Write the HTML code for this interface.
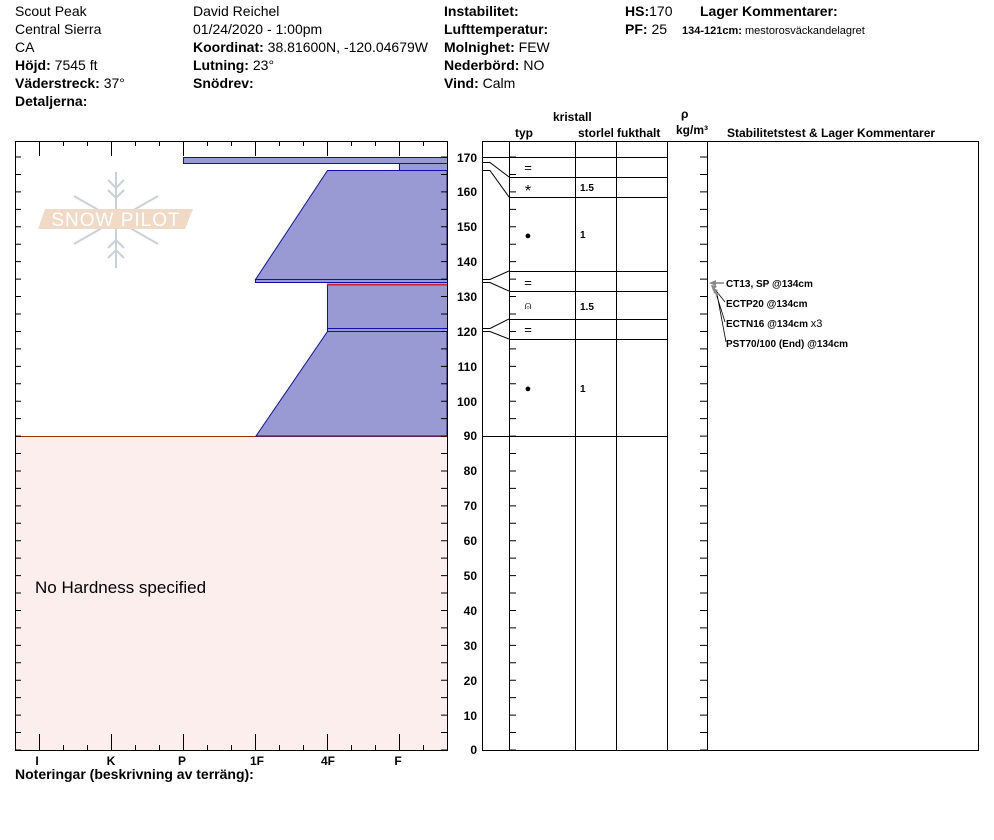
<!DOCTYPE html>
<html><head><meta charset="utf-8"><style>
body{margin:0;background:#fff;width:994px;height:840px;overflow:hidden;font-family:"Liberation Sans",Arial,sans-serif}
svg{position:absolute;left:0;top:0}
text{font-family:"Liberation Sans",Arial,sans-serif}
.h{font-size:14px}
.b{font-weight:bold}
.s{font-size:12px;font-weight:bold}
.t{font-size:10px;font-weight:bold}
</style></head><body>
<svg width="994" height="840" viewBox="0 0 994 840">
<g class="h" fill="#000">
<text x="15" y="16">Scout Peak</text>
<text x="15" y="34">Central Sierra</text>
<text x="15" y="52">CA</text>
<text x="15" y="70"><tspan class="b">Höjd:</tspan> 7545 ft</text>
<text x="15" y="88"><tspan class="b">Väderstreck:</tspan> 37°</text>
<text x="15" y="106" class="b">Detaljerna:</text>
<text x="193" y="16">David Reichel</text>
<text x="193" y="34">01/24/2020 - 1:00pm</text>
<text x="193" y="52"><tspan class="b">Koordinat:</tspan> 38.81600N, -120.04679W</text>
<text x="193" y="70"><tspan class="b">Lutning:</tspan> 23°</text>
<text x="193" y="88" class="b">Snödrev:</text>
<text x="444" y="16" class="b">Instabilitet:</text>
<text x="444" y="34" class="b">Lufttemperatur:</text>
<text x="444" y="52"><tspan class="b">Molnighet:</tspan> FEW</text>
<text x="444" y="70"><tspan class="b">Nederbörd:</tspan> NO</text>
<text x="444" y="88"><tspan class="b">Vind:</tspan>  Calm</text>
<text x="625" y="16"><tspan class="b">HS:</tspan>170</text>
<text x="625" y="34"><tspan class="b">PF:</tspan> 25</text>
<text x="700" y="16" class="b">Lager Kommentarer:</text>
<text x="682" y="34" font-size="11"><tspan font-weight="bold">134-121cm:</tspan> mestorosväckandelagret</text>
</g>
<rect x="15" y="436" width="432" height="314" fill="#fdeeee"/>
<line x1="15.5" y1="436" x2="15.5" y2="750" stroke="#993300"/>
<line x1="15" y1="436.5" x2="447" y2="436.5" stroke="#993300"/>
<text x="35" y="593" font-size="17">No Hardness specified</text>
<g opacity="0.9">
<g stroke="#c5ccd3" stroke-width="2" fill="none">
<line x1="116" y1="172" x2="116" y2="268"/>
<line x1="74" y1="196" x2="158" y2="244"/>
<line x1="74" y1="244" x2="158" y2="196"/>
<path d="M108 180 l8 8 l8 -8 M108 190 l8 8 l8 -8 M108 258 l8 -8 l8 8 M108 248 l8 -8 l8 8"/>
</g>
<polygon points="45,209 193,209 185,229 38,229" fill="#efd6c0"/>
<text x="116" y="226" font-size="19" fill="#fff" text-anchor="middle" letter-spacing="1">SNOW PILOT</text>
</g>
<g fill="#9999d4" stroke="#1010b0" stroke-width="1">
<rect x="183.5" y="157.5" width="264" height="6"/>
<rect x="399.5" y="163.5" width="48" height="7"/>
<polygon points="327.5,170.5 447,170.5 447,279.5 255.5,279.5"/>
<rect x="255.5" y="279.5" width="192" height="3"/>
<rect x="327.5" y="284.5" width="120" height="44"/>
<rect x="327.5" y="328.5" width="120" height="3"/>
<polygon points="327.5,331.5 447,331.5 447,436 256,436"/>
</g>
<line x1="327" y1="284.5" x2="447" y2="284.5" stroke="#cc2222" stroke-width="2"/>
<rect x="15.5" y="141.5" width="432" height="609" fill="none" stroke="#000"/>
<g stroke="#000" fill="none">
<path d="M15 750 h6 m-6 -17.44 h6 m-6 -17.44 h6 m-6 -17.44 h6 m-6 -17.44 h6 m-6 -17.44 h6 m-6 -17.44 h6 m-6 -17.44 h6 m-6 -17.44 h6 m-6 -17.44 h6 m-6 -17.44 h6 m-6 -17.44 h6 m-6 -17.44 h6 m-6 -17.44 h6 m-6 -17.44 h6 m-6 -17.44 h6 m-6 -17.44 h6 m-6 -17.44 h6 m-6 -17.44 h6 m-6 -17.44 h6 m-6 -17.44 h6 m-6 -17.44 h6 m-6 -17.44 h6 m-6 -17.44 h6 m-6 -17.44 h6 m-6 -17.44 h6 m-6 -17.44 h6 m-6 -17.44 h6 m-6 -17.44 h6 m-6 -17.44 h6 m-6 -17.44 h6 m-6 -17.44 h6 m-6 -17.44 h6 m-6 -17.44 h6 m-6 -17.44 h6"/>
<path d="M441 750 h6 m-6 -17.44 h6 m-6 -17.44 h6 m-6 -17.44 h6 m-6 -17.44 h6 m-6 -17.44 h6 m-6 -17.44 h6 m-6 -17.44 h6 m-6 -17.44 h6 m-6 -17.44 h6 m-6 -17.44 h6 m-6 -17.44 h6 m-6 -17.44 h6 m-6 -17.44 h6 m-6 -17.44 h6 m-6 -17.44 h6 m-6 -17.44 h6 m-6 -17.44 h6 m-6 -17.44 h6 m-6 -17.44 h6 m-6 -17.44 h6 m-6 -17.44 h6 m-6 -17.44 h6 m-6 -17.44 h6 m-6 -17.44 h6 m-6 -17.44 h6 m-6 -17.44 h6 m-6 -17.44 h6 m-6 -17.44 h6 m-6 -17.44 h6 m-6 -17.44 h6 m-6 -17.44 h6 m-6 -17.44 h6 m-6 -17.44 h6 m-6 -17.44 h6"/>
<path d="M509 750 h7 m-7 -17.44 h7 m-7 -17.44 h7 m-7 -17.44 h7 m-7 -17.44 h7 m-7 -17.44 h7 m-7 -17.44 h7 m-7 -17.44 h7 m-7 -17.44 h7 m-7 -17.44 h7 m-7 -17.44 h7 m-7 -17.44 h7 m-7 -17.44 h7 m-7 -17.44 h7 m-7 -17.44 h7 m-7 -17.44 h7 m-7 -17.44 h7 m-7 -17.44 h7 m-7 -17.44 h7 m-7 -17.44 h7 m-7 -17.44 h7 m-7 -17.44 h7 m-7 -17.44 h7 m-7 -17.44 h7 m-7 -17.44 h7 m-7 -17.44 h7 m-7 -17.44 h7 m-7 -17.44 h7 m-7 -17.44 h7 m-7 -17.44 h7 m-7 -17.44 h7 m-7 -17.44 h7 m-7 -17.44 h7 m-7 -17.44 h7 m-7 -17.44 h7"/>
<path d="M700 750 h7 m-7 -17.44 h7 m-7 -17.44 h7 m-7 -17.44 h7 m-7 -17.44 h7 m-7 -17.44 h7 m-7 -17.44 h7 m-7 -17.44 h7 m-7 -17.44 h7 m-7 -17.44 h7 m-7 -17.44 h7 m-7 -17.44 h7 m-7 -17.44 h7 m-7 -17.44 h7 m-7 -17.44 h7 m-7 -17.44 h7 m-7 -17.44 h7 m-7 -17.44 h7 m-7 -17.44 h7 m-7 -17.44 h7 m-7 -17.44 h7 m-7 -17.44 h7 m-7 -17.44 h7 m-7 -17.44 h7 m-7 -17.44 h7 m-7 -17.44 h7 m-7 -17.44 h7 m-7 -17.44 h7 m-7 -17.44 h7 m-7 -17.44 h7 m-7 -17.44 h7 m-7 -17.44 h7 m-7 -17.44 h7 m-7 -17.44 h7 m-7 -17.44 h7"/>
<path d="M39.5 141 v15 M111.5 141 v15 M183.5 141 v15 M255.5 141 v15 M327.5 141 v15 M399.5 141 v15 M63.5 141 v5 M87.5 141 v5 M135.5 141 v5 M159.5 141 v5 M207.5 141 v5 M231.5 141 v5 M279.5 141 v5 M303.5 141 v5 M351.5 141 v5 M375.5 141 v5 M423.5 141 v5"/>
<path d="M39.5 750 v-16 M111.5 750 v-16 M183.5 750 v-16 M255.5 750 v-16 M327.5 750 v-16 M399.5 750 v-16 M63.5 750 v-5 M87.5 750 v-5 M135.5 750 v-5 M159.5 750 v-5 M207.5 750 v-5 M231.5 750 v-5 M279.5 750 v-5 M303.5 750 v-5 M351.5 750 v-5 M375.5 750 v-5 M423.5 750 v-5"/>
</g>
<g class="s" text-anchor="middle">
<text x="37" y="765">I</text><text x="111" y="765">K</text><text x="182" y="765">P</text>
<text x="257" y="765">1F</text><text x="328" y="765">4F</text><text x="398" y="765">F</text>
</g>
<text x="15" y="779" class="h b">Noteringar (beskrivning av terräng):</text>
<g class="s" text-anchor="end">
<text x="477" y="754">0</text><text x="477" y="720">10</text><text x="477" y="685">20</text>
<text x="477" y="650">30</text><text x="477" y="615">40</text><text x="477" y="580">50</text>
<text x="477" y="545">60</text><text x="477" y="510">70</text><text x="477" y="475">80</text>
<text x="477" y="440">90</text><text x="477" y="406">100</text><text x="477" y="371">110</text>
<text x="477" y="336">120</text><text x="477" y="301">130</text><text x="477" y="266">140</text>
<text x="477" y="231">150</text><text x="477" y="196">160</text><text x="477" y="162">170</text>
</g>
<g stroke="#000" fill="none">
<rect x="482.5" y="141.5" width="496" height="609"/>
<path d="M509.5 141 v609 M575.5 141 v609 M616.5 141 v609 M667.5 141 v609 M707.5 141 v609"/>
<path d="M482 157.5 h185 M509 177.5 h158 M509 197.5 h158 M509 271.5 h158 M509 291.5 h158 M509 319.5 h158 M509 339.5 h158 M482 436.5 h185"/>
<path d="M482 162.5 h8 L509 177 M482 170.5 h8 L509 197 M482 279.5 h8 L509 271 M482 282.5 h8 L509 291 M482 328.5 h8 L509 319 M482 331.5 h8 L509 339"/>
</g>
<g class="s">
<text x="553" y="121">kristall</text>
<text x="515" y="137">typ</text>
<text x="578" y="137">storlek</text>
<rect x="613" y="126" width="4" height="13" fill="#fff"/>
<text x="617" y="137">fukthalt</text>
<text x="681" y="118">ρ</text>
<text x="676" y="134">kg/m³</text>
<text x="727" y="137">Stabilitetstest &amp; Lager Kommentarer</text>
</g>
<g font-size="13" text-anchor="middle">
<text x="528" y="172">=</text>
<text x="528" y="196" font-size="16">*</text>
<text x="528" y="239" font-size="11">●</text>
<text x="528" y="287">=</text>
<text x="528" y="309" font-size="11">⍝</text>
<text x="528" y="334">=</text>
<text x="528" y="392" font-size="11">●</text>
</g>
<g class="t">
<text x="580" y="191">1.5</text><text x="580" y="238">1</text>
<text x="580" y="310">1.5</text><text x="580" y="392">1</text>
</g>
<g stroke="#000" fill="none" stroke-width="0.8">
<path d="M724 283 h-12 M725 302 L713 287 M725 322 L715 290 M726 342 L717 294"/>
</g>
<g fill="#888">
<polygon points="709,283 716,280 716,286"/>
<polygon points="711,285 717,286 713,291"/>
<polygon points="713,288 718,290 714,294"/>
<polygon points="715,292 720,294 716,297"/>
</g>
<g class="t">
<text x="726" y="287">CT13, SP @134cm</text>
<text x="726" y="307">ECTP20 @134cm</text>
<text x="726" y="327">ECTN16 @134cm <tspan font-weight="normal" font-size="11">x3</tspan></text>
<text x="726" y="347">PST70/100 (End) @134cm</text>
</g>
</svg>
</body></html>
